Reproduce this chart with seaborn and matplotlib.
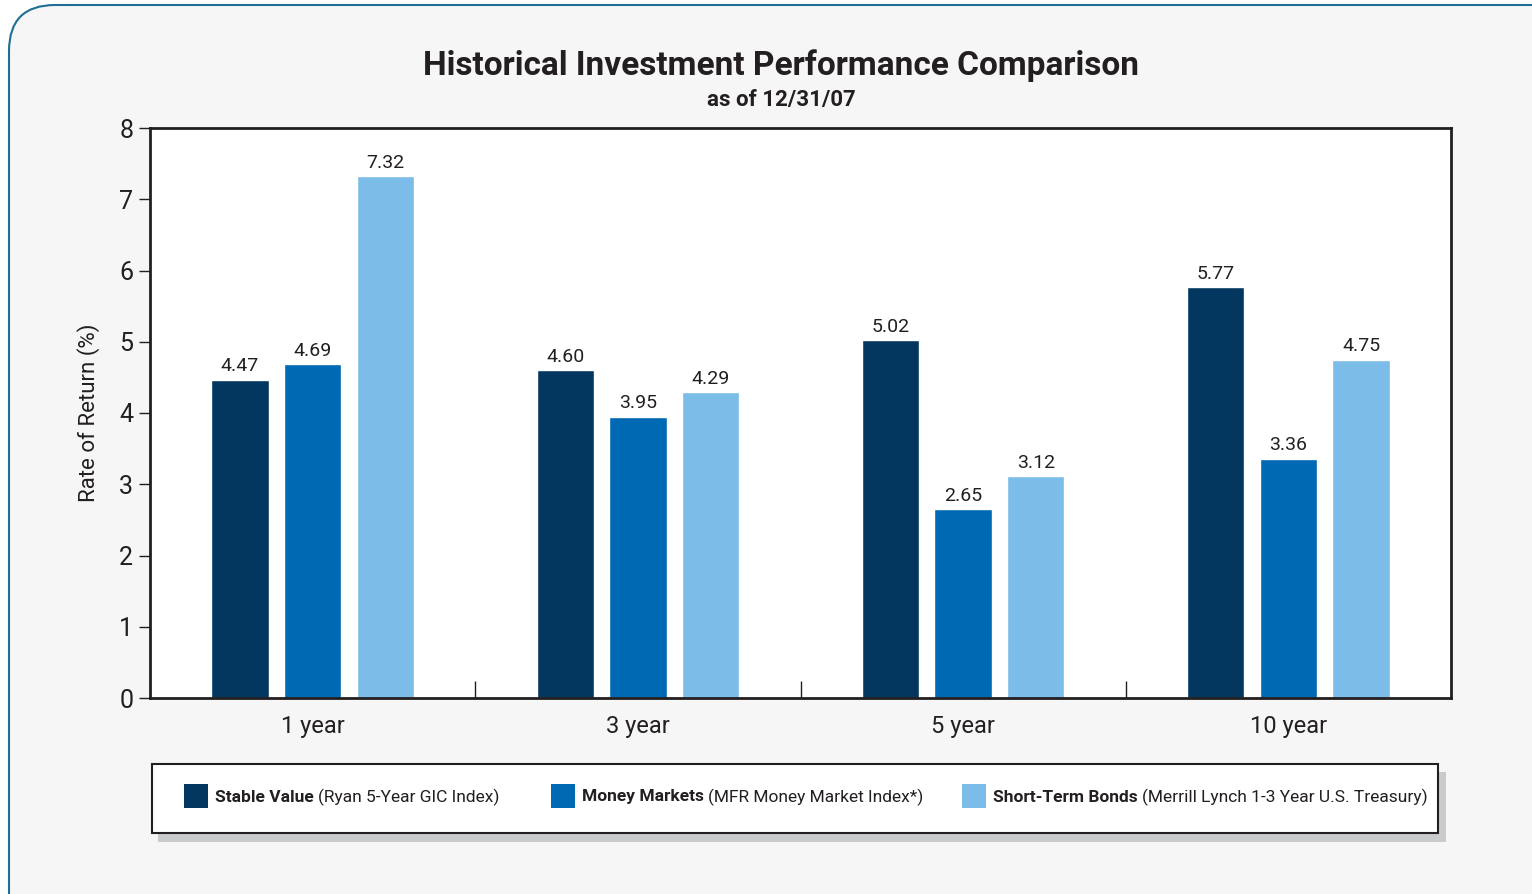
import matplotlib
matplotlib.use("Agg")
import matplotlib.pyplot as plt
from matplotlib.patches import FancyBboxPatch, Rectangle
from matplotlib.ticker import FixedLocator
import seaborn as sns
import pandas as pd

# data
periods = ["1 year", "3 year", "5 year", "10 year"]
stable_value = [4.47, 4.60, 5.02, 5.77]
money_markets = [4.69, 3.95, 2.65, 3.36]
short_term_bonds = [7.32, 4.29, 3.12, 4.75]

series_names = ["Stable Value", "Money Markets", "Short-Term Bonds"]
series_notes = ["(Ryan 5-Year GIC Index)", "(MFR Money Market Index*)",
                "(Merrill Lynch 1-3 Year U.S. Treasury)"]
colors = ["#03375f", "#0069b4", "#7bbde8"]

df = pd.DataFrame({
    "period": periods * 3,
    "series": [s for s in series_names for _ in periods],
    "value": stable_value + money_markets + short_term_bonds,
})

sns.set_style("white")
plt.rcParams["font.family"] = ["Roboto", "DejaVu Sans"]
ink = "#231f20"

W, H = 1532, 894
fig = plt.figure(figsize=(W / 100, H / 100), dpi=100)
fig.patch.set_facecolor("white")

# outer rounded panel, kept behind the axes
panel = FancyBboxPatch((9 / W, -0.05), 1.05, 1.05 - 5 / H,
                       boxstyle="round,pad=0,rounding_size=0.03",
                       transform=fig.transFigure, facecolor="#f6f6f6",
                       edgecolor="#1f6f94", linewidth=1.5, mutation_aspect=W / H,
                       zorder=-10)
fig.patches.append(panel)

ax = fig.add_axes([150 / W, 1 - 698 / H, (1451 - 150) / W, (698 - 128) / H])
ax.set_zorder(5)
sns.barplot(data=df, x="period", y="value", hue="series", palette=colors,
            width=0.67, gap=0.21, saturation=1, ax=ax, legend=False)

for cont in ax.containers:
    ax.bar_label(cont, fmt="%.2f", padding=3, fontsize=14, color=ink)

ax.set_facecolor("white")
ax.set_ylim(0, 8)
ax.set_xlim(-0.5, 3.5)
ax.set_yticks(range(9))
ax.set_xlabel("")
ax.set_ylabel("Rate of Return (%)", fontsize=16, color=ink, labelpad=14)
for sp in ax.spines.values():
    sp.set_visible(True)
    sp.set_color(ink)
    sp.set_linewidth(2)
ax.tick_params(axis="y", left=True, length=8, width=1, color=ink,
               labelsize=18, labelcolor=ink, pad=4)
ax.tick_params(axis="x", which="major", bottom=False, labelsize=17,
               labelcolor=ink, pad=9)
ax.xaxis.set_minor_locator(FixedLocator([0.5, 1.5, 2.5]))
ax.tick_params(axis="x", which="minor", bottom=True, direction="in",
               length=12, width=1, color=ink)

fig.text(781 / W, 1 - 66 / H, "Historical Investment Performance Comparison",
         ha="center", va="center", fontsize=24, fontweight="bold", color=ink)
fig.text(781 / W, 1 - 100 / H, "as of 12/31/07", ha="center", va="center",
         fontsize=16, fontweight="bold", color=ink)

# legend box with drop shadow
fig.patches.append(Rectangle((158 / W, 1 - 842 / H), (1446 - 158) / W, (842 - 772) / H,
                             transform=fig.transFigure, facecolor="#c9cacc",
                             edgecolor="none"))
fig.patches.append(Rectangle((152 / W, 1 - 833 / H), (1438 - 152) / W, (833 - 764) / H,
                             transform=fig.transFigure, facecolor="white",
                             edgecolor=ink, linewidth=1.5))

fig.canvas.draw()
renderer = fig.canvas.get_renderer()
sq_x = [184, 551, 962]
y_mid = 1 - 797 / H
for x0, name, note, c in zip(sq_x, series_names, series_notes, colors):
    fig.patches.append(Rectangle((x0 / W, 1 - 808 / H), 24 / W, 24 / H,
                                 transform=fig.transFigure, facecolor=c,
                                 edgecolor="none"))
    t = fig.text((x0 + 31) / W, y_mid, name, ha="left", va="center",
                 fontsize=12.5, fontweight="bold", color=ink)
    bb = t.get_window_extent(renderer)
    fig.text((bb.x1 + 4) / W, y_mid, note, ha="left", va="center",
             fontsize=12.5, color=ink)

fig.savefig("out.png", dpi=100)
